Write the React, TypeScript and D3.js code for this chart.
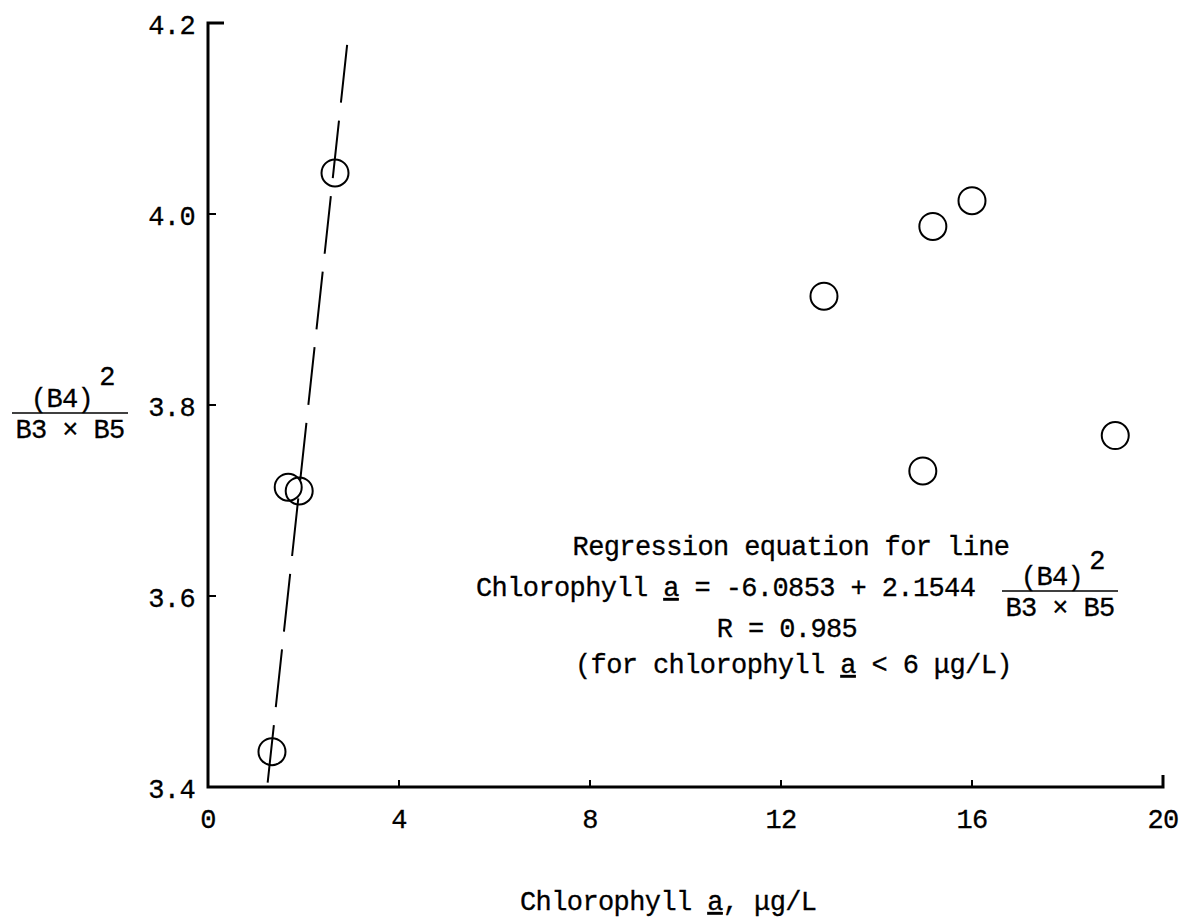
import React from "react";
import * as d3 from "d3";

// Band ratio (B4)^2 / (B3 x B5) versus chlorophyll a
const chlorophyll = [2.66, 1.68, 1.91, 1.34, 12.9, 15.18, 16.0, 19.0, 14.97];
const bandRatio = [4.043, 3.714, 3.71, 3.437, 3.914, 3.987, 4.014, 3.768, 3.731];

const xTicks = [0, 4, 8, 12, 16, 20];
const yTicks = [3.4, 3.6, 3.8, 4.0, 4.2];

// Regression: chlorophyll a = intercept + slope * ratio
const intercept = -6.0853;
const slope = 2.1544;
const fitRatioRange = [3.4, 4.177];

const W = 1182;
const H = 922;
const FONT = "'Liberation Mono', 'DejaVu Sans Mono', monospace";
const FS = 27;
const LS = -0.6;

function Frac({ cx, lineY, w, sup }: { cx: number; lineY: number; w: number; sup: number }) {
  return (
    <g>
      <text x={cx - 8} y={lineY - 6} textAnchor="middle">(B4)</text>
      <text x={cx + 37} y={lineY - sup} textAnchor="middle">2</text>
      <line x1={cx - w / 2} x2={cx + w / 2} y1={lineY} y2={lineY} stroke="#000" strokeWidth={1.6} />
      <text x={cx} y={lineY + 25} textAnchor="middle">B3 × B5</text>
    </g>
  );
}

export default function App() {
  const x = d3.scaleLinear().domain([0, 20]).range([208, 1163]);
  const y = d3.scaleLinear().domain([3.4, 4.2]).range([787, 23]);

  const fitPts: [number, number][] = fitRatioRange.map((r) => [intercept + slope * r, r]);
  const fitLine = d3
    .line<[number, number]>()
    .x((d) => x(d[0]))
    .y((d) => y(d[1]));

  const x0 = x(0);
  const y0 = y(3.4);

  return (
    <div style={{ position: "absolute", left: 0, top: 0 }}>
      <svg width={W} height={H} style={{ display: "block", background: "#fff" }}>
        <g fontFamily={FONT} fontSize={FS} letterSpacing={LS} fill="#000" stroke="#000" strokeWidth={0.3}>
          {/* axes */}
          <path
            d={`M${x0 + 16},${y(4.2)} H${x0} V${y0} H${x(20)} V${y0 - 12}`}
            fill="none"
            stroke="#000"
            strokeWidth={3}
          />
          {yTicks.slice(1, 4).map((t) => (
            <line key={"yt" + t} x1={x0} x2={x0 + 8} y1={y(t)} y2={y(t)} stroke="#000" strokeWidth={2} />
          ))}
          {xTicks.slice(1, 5).map((t) => (
            <line key={"xt" + t} x1={x(t)} x2={x(t)} y1={y0} y2={y0 - 7} stroke="#000" strokeWidth={2} />
          ))}
          {yTicks.map((t) => (
            <text key={"yl" + t} x={x0 - 13} y={y(t) + 11} textAnchor="end">
              {t.toFixed(1)}
            </text>
          ))}
          {xTicks.map((t) => (
            <text key={"xl" + t} x={x(t)} y={y0 + 41} textAnchor="middle">
              {t}
            </text>
          ))}

          {/* regression line */}
          <path
            d={fitLine(fitPts.slice().reverse()) || ""}
            fill="none"
            stroke="#000"
            strokeWidth={2}
            strokeDasharray="58 18"
          />

          {/* observations */}
          {chlorophyll.map((c, i) => (
            <circle key={i} cx={x(c)} cy={y(bandRatio[i])} r={13.5} fill="none" stroke="#000" strokeWidth={2} />
          ))}

          {/* y-axis title */}
          <Frac cx={70} lineY={413} w={116} sup={28} />

          {/* x-axis title */}
          <text x={520} y={910}>
            Chlorophyll <tspan textDecoration="underline">a</tspan>, μg/L
          </text>

          {/* regression annotation */}
          <text x={791} y={555} textAnchor="middle">Regression equation for line</text>
          <text x={476} y={596}>
            Chlorophyll <tspan textDecoration="underline">a</tspan> = -6.0853 + 2.1544
          </text>
          <Frac cx={1060} lineY={591} w={116} sup={22} />
          <text x={787} y={637} textAnchor="middle">R = 0.985</text>
          <text x={575} y={673}>
            (for chlorophyll <tspan textDecoration="underline">a</tspan> &lt; 6 μg/L)
          </text>
        </g>
      </svg>
    </div>
  );
}
